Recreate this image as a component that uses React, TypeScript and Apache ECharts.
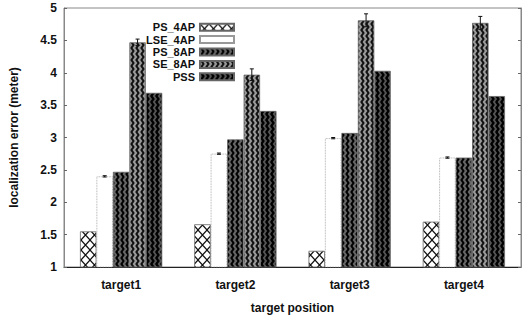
import React, { useEffect, useRef } from "react";
import * as echarts from "echarts";

const categories = ["target1", "target2", "target3", "target4"];
const seriesNames = ["PS_4AP", "LSE_4AP", "PS_8AP", "SE_8AP", "PSS"];
const ps4ap = [1.55, 1.66, 1.25, 1.7];
const lse4ap = [2.4, 2.75, 2.99, 2.69];
const ps8ap = [2.47, 2.97, 3.07, 2.69];
const se8ap = [4.47, 3.97, 4.81, 4.77];
const pss = [3.69, 3.41, 4.03, 3.64];
const lse4apErr = [0.01, 0.01, 0.01, 0.01];
const se8apErr = [0.05, 0.09, 0.1, 0.1];
const yMin = 1;
const yMax = 5;
const yInterval = 0.5;

const BAR_RATIO = 0.144;

function crossHatch(): string {
  const c = document.createElement("canvas");
  c.width = 9;
  c.height = 10;
  const g = c.getContext("2d")!;
  g.fillStyle = "#fff";
  g.fillRect(0, 0, 9, 10);
  g.strokeStyle = "#111";
  g.lineWidth = 1.2;
  g.beginPath();
  g.moveTo(0, 0);
  g.lineTo(9, 10);
  g.moveTo(9, 0);
  g.lineTo(0, 10);
  g.stroke();
  return c.toDataURL();
}

function zigzag(bg: string, fg: string, lw: number): string {
  const c = document.createElement("canvas");
  c.width = 5;
  c.height = 6;
  const g = c.getContext("2d")!;
  g.fillStyle = bg;
  g.fillRect(0, 0, 5, 6);
  g.strokeStyle = fg;
  g.lineWidth = lw;
  g.beginPath();
  g.moveTo(1, -0.5);
  g.lineTo(3.5, 3);
  g.lineTo(1, 6.5);
  g.stroke();
  return c.toDataURL();
}

function errorSeries(vals: number[], errs: number[], barIndex: number) {
  return {
    type: "custom",
    name: "err" + barIndex,
    data: vals.map((v, i) => [i, v, errs[i]]),
    encode: { x: 0, y: 1 },
    z: 10,
    renderItem: (params: any, api: any) => {
      const ci = api.value(0);
      const v = api.value(1);
      const e = api.value(2);
      const catW = api.size([1, 0])[0];
      const bw = catW * BAR_RATIO;
      const top = api.coord([ci, v + e]);
      const bot = api.coord([ci, v - e]);
      const x = top[0] + bw * (barIndex - 2);
      const st = { stroke: "#111", lineWidth: 1 };
      return {
        type: "group",
        children: [
          { type: "line", shape: { x1: x, y1: top[1], x2: x, y2: bot[1] }, style: st },
          { type: "line", shape: { x1: x - 2, y1: top[1], x2: x + 2, y2: top[1] }, style: st },
          { type: "line", shape: { x1: x - 2, y1: bot[1], x2: x + 2, y2: bot[1] }, style: st },
        ],
      };
    },
  };
}

export default function App() {
  const ref = useRef<HTMLDivElement>(null);
  useEffect(() => {
    if (!ref.current) return;
    const chart = echarts.init(ref.current, null, { renderer: "svg" });
    const fills: any[] = [
      { image: crossHatch(), repeat: "repeat" },
      "#ffffff",
      { image: zigzag("#666", "#000", 2), repeat: "repeat" },
      { image: zigzag("#999", "#111", 2), repeat: "repeat" },
      { image: zigzag("#555", "#000", 2.2), repeat: "repeat" },
    ];
    const values = [ps4ap, lse4ap, ps8ap, se8ap, pss];
    const font = "Liberation Sans, Arial, sans-serif";
    const barSeries = seriesNames.map((name, i) => ({
      name,
      type: "bar",
      data: values[i],
      barWidth: (BAR_RATIO * 100).toFixed(1) + "%",
      barGap: "0%",
      itemStyle: {
        color: fills[i],
        borderColor: i === 1 ? "#999" : "#666",
        borderWidth: 0.8,
        borderType: i === 1 ? "dotted" : "solid",
      },
    }));
    chart.setOption({
      animation: false,
      backgroundColor: "#fff",
      textStyle: { fontFamily: font },
      grid: {
        left: 62,
        right: 8,
        top: 8,
        bottom: 43,
        show: true,
        borderColor: "#888",
        borderWidth: 1,
      },
      legend: {
        data: seriesNames,
        orient: "vertical",
        right: 289,
        top: 16,
        align: "right",
        itemWidth: 34,
        itemHeight: 7,
        itemGap: 0,
        icon: "rect",
        textStyle: {
          fontFamily: font,
          fontSize: 11,
          fontWeight: "bold",
          color: "#111",
          lineHeight: 12.4,
        },
      },
      xAxis: {
        type: "category",
        data: categories,
        name: "target position",
        nameLocation: "middle",
        nameGap: 35,
        nameTextStyle: { fontFamily: font, fontSize: 12, fontWeight: "bold", color: "#111" },
        axisLine: { lineStyle: { color: "#222", width: 1 } },
        axisTick: { show: false },
        axisLabel: { fontFamily: font, fontSize: 12, fontWeight: "bold", color: "#111", margin: 12 },
      },
      yAxis: [
        {
          type: "value",
          min: yMin,
          max: yMax,
          interval: yInterval,
          name: "localization error (meter)",
          nameLocation: "middle",
          nameGap: 44,
          nameTextStyle: { fontFamily: font, fontSize: 12, fontWeight: "bold", color: "#111" },
          axisLine: { show: true, lineStyle: { color: "#888", width: 1 } },
          axisTick: { show: true, inside: true, length: 3, lineStyle: { color: "#666" } },
          axisLabel: { fontFamily: font, fontSize: 12, fontWeight: "bold", color: "#111", margin: 7 },
          splitLine: { show: false },
        },
        {
          type: "value",
          min: yMin,
          max: yMax,
          interval: yInterval,
          position: "right",
          axisLine: { show: true, lineStyle: { color: "#888", width: 1 } },
          axisTick: { show: true, inside: true, length: 3, lineStyle: { color: "#666" } },
          axisLabel: { show: false },
          splitLine: { show: false },
        },
      ],
      series: [
        ...barSeries,
        errorSeries(lse4ap, lse4apErr, 1),
        errorSeries(se8ap, se8apErr, 3),
      ],
    });
    return () => chart.dispose();
  }, []);
  return (
    <div
      ref={ref}
      style={{ position: "absolute", left: 0, top: 0, width: 529, height: 319 }}
    />
  );
}
